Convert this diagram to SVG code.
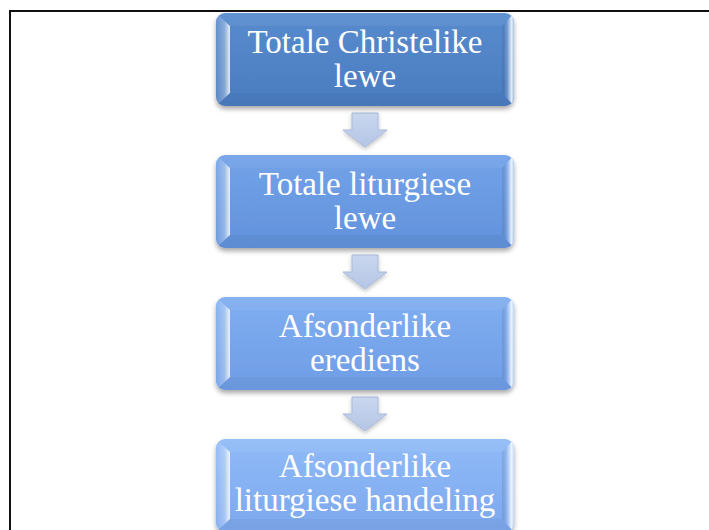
<svg xmlns="http://www.w3.org/2000/svg" width="709" height="530" viewBox="0 0 709 530">
  <style>
    .lbl { font-family: "Liberation Serif", "Times New Roman", serif; font-size: 33px; fill: #ffffff; text-anchor: middle; }
    .frame { fill: none; stroke: #111111; stroke-width: 2; }
    .arrow { fill: url(#gArrow); stroke: #a9bbdb; stroke-width: 1; }
  </style>
  <defs>
    <filter id="shadow" x="-10%" y="-10%" width="120%" height="130%">
      <feDropShadow dx="0" dy="3" stdDeviation="2.5" flood-color="#000000" flood-opacity="0.35"/>
    </filter>
    <filter id="ashadow" x="-20%" y="-20%" width="140%" height="150%">
      <feDropShadow dx="0" dy="2" stdDeviation="2" flood-color="#000000" flood-opacity="0.25"/>
    </filter>
    <linearGradient id="g1" x1="0" y1="0" x2="0" y2="1">
      <stop offset="0" stop-color="#588bce"/>
      <stop offset="1" stop-color="#4a7cc0"/>
    </linearGradient>
    <linearGradient id="g2" x1="0" y1="0" x2="0" y2="1">
      <stop offset="0" stop-color="#72a2e8"/>
      <stop offset="1" stop-color="#6292dc"/>
    </linearGradient>
    <linearGradient id="g3" x1="0" y1="0" x2="0" y2="1">
      <stop offset="0" stop-color="#80aef1"/>
      <stop offset="1" stop-color="#6f9de6"/>
    </linearGradient>
    <linearGradient id="g4" x1="0" y1="0" x2="0" y2="1">
      <stop offset="0" stop-color="#90baf7"/>
      <stop offset="1" stop-color="#7ca8ee"/>
    </linearGradient>
    <linearGradient id="bevL" x1="0" y1="0" x2="1" y2="0">
      <stop offset="0" stop-color="#ffffff" stop-opacity="0.08"/>
      <stop offset="0.6" stop-color="#ffffff" stop-opacity="0.3"/>
      <stop offset="1" stop-color="#ffffff" stop-opacity="0.85"/>
    </linearGradient>
    <linearGradient id="bevR" x1="0" y1="0" x2="1" y2="0">
      <stop offset="0" stop-color="#000000" stop-opacity="0.08"/>
      <stop offset="0.45" stop-color="#ffffff" stop-opacity="0.2"/>
      <stop offset="0.8" stop-color="#ffffff" stop-opacity="0.85"/>
      <stop offset="1" stop-color="#ffffff" stop-opacity="0.5"/>
    </linearGradient>
    <linearGradient id="gArrow" x1="0" y1="0" x2="0" y2="1">
      <stop offset="0" stop-color="#c9d6ee"/>
      <stop offset="1" stop-color="#b4c6e6"/>
    </linearGradient>
    <g id="bevel">
      <polygon points="0,0 14,13 14,80 0,93" fill="url(#bevL)"/>
      <polygon points="298,0 286,13 286,80 298,93" fill="url(#bevR)"/>
      <polygon points="0,0 298,0 286,13 14,13" fill="#ffffff" fill-opacity="0.06"/>
      <polygon points="0,93 298,93 286,80 14,80" fill="#000000" fill-opacity="0.04"/>
    </g>
    <clipPath id="boxclip">
      <rect x="0" y="0" width="298" height="93" rx="9"/>
    </clipPath>
    <path id="arr" d="M352,0 H378 V17 H387 L365,34 L343,17 H352 Z"/>
  </defs>

  <path class="frame" d="M10,530 V11 H709"/>

  <g id="connectors">
    <use href="#arr" class="arrow" transform="translate(0,113)" filter="url(#ashadow)"/>
    <use href="#arr" class="arrow" transform="translate(0,255)" filter="url(#ashadow)"/>
    <use href="#arr" class="arrow" transform="translate(0,397)" filter="url(#ashadow)"/>
  </g>

  <g id="node1" transform="translate(216,13)">
    <rect width="298" height="93" rx="9" fill="url(#g1)" filter="url(#shadow)"/>
    <use href="#bevel" clip-path="url(#boxclip)"/>
    <text class="lbl" x="149" y="40">Totale Christelike</text>
    <text class="lbl" x="149" y="74">lewe</text>
  </g>

  <g id="node2" transform="translate(216,155)">
    <rect width="298" height="93" rx="9" fill="url(#g2)" filter="url(#shadow)"/>
    <use href="#bevel" clip-path="url(#boxclip)"/>
    <text class="lbl" x="149" y="40">Totale liturgiese</text>
    <text class="lbl" x="149" y="74">lewe</text>
  </g>

  <g id="node3" transform="translate(216,297)">
    <rect width="298" height="93" rx="9" fill="url(#g3)" filter="url(#shadow)"/>
    <use href="#bevel" clip-path="url(#boxclip)"/>
    <text class="lbl" x="149" y="40">Afsonderlike</text>
    <text class="lbl" x="149" y="74">erediens</text>
  </g>

  <g id="node4" transform="translate(216,439)">
    <rect width="298" height="93" rx="9" fill="url(#g4)" filter="url(#shadow)"/>
    <use href="#bevel" clip-path="url(#boxclip)"/>
    <text class="lbl" x="149" y="38">Afsonderlike</text>
    <text class="lbl" x="149" y="72">liturgiese handeling</text>
  </g>
</svg>
